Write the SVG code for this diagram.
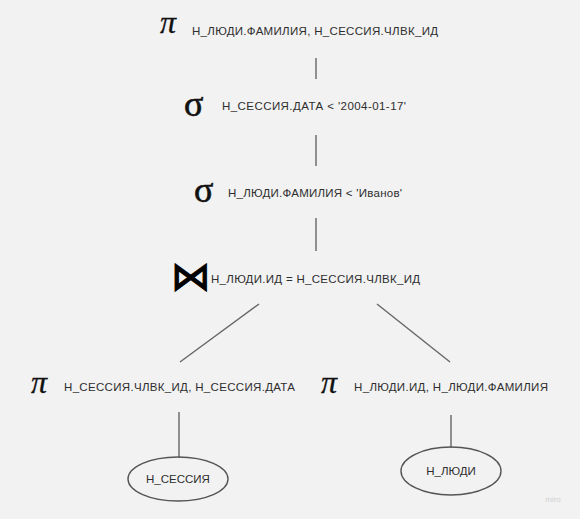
<svg xmlns="http://www.w3.org/2000/svg" width="580" height="519" viewBox="0 0 580 519">
<style>
.lbl{font-family:"Liberation Sans",Arial,sans-serif;font-size:11.5px;fill:#2e2e2e}
.sym{font-family:"Liberation Serif","DejaVu Serif",serif;fill:#111;stroke:#111}
.pi{font-style:italic;font-size:32px;stroke-width:0.3}
.sig{font-size:36px;stroke-width:0.6}
.edge{stroke:#666;stroke-width:1.4;fill:none}
.ell{fill:none;stroke:#555;stroke-width:1.4}
</style>
<rect width="580" height="519" fill="#f2f2f2"/>
<g id="connectors">
<line class="edge" x1="316" y1="58" x2="316" y2="79"/>
<line class="edge" x1="316" y1="135" x2="316" y2="166"/>
<line class="edge" x1="316" y1="218" x2="316" y2="251"/>
<line class="edge" x1="259" y1="304" x2="180" y2="362"/>
<line class="edge" x1="377" y1="304" x2="450" y2="362"/>
<line class="edge" x1="179" y1="412" x2="179" y2="458"/>
<line class="edge" x1="451" y1="415" x2="451" y2="448"/>
</g>
<g id="proj-top">
<text class="sym pi" x="160" y="33">π</text>
<text class="lbl" x="192" y="35" textLength="246">Н_ЛЮДИ.ФАМИЛИЯ, Н_СЕССИЯ.ЧЛВК_ИД</text>
</g>
<g id="sel-date">
<text class="sym sig" x="184" y="116">σ</text>
<text class="lbl" x="222" y="110" textLength="184">Н_СЕССИЯ.ДАТА &lt; '2004-01-17'</text>
</g>
<g id="sel-name">
<text class="sym sig" x="194" y="202">σ</text>
<text class="lbl" x="228" y="197" textLength="174">Н_ЛЮДИ.ФАМИЛИЯ &lt; 'Иванов'</text>
</g>
<g id="join">
<text x="171" y="290" font-family="DejaVu Sans,sans-serif" font-size="40" fill="#000" stroke="#000" stroke-width="1">⋈</text>
<text class="lbl" x="211" y="283" textLength="209">Н_ЛЮДИ.ИД = Н_СЕССИЯ.ЧЛВК_ИД</text>
</g>
<g id="proj-left">
<text class="sym pi" x="31" y="393">π</text>
<text class="lbl" x="64" y="391" textLength="231">Н_СЕССИЯ.ЧЛВК_ИД, Н_СЕССИЯ.ДАТА</text>
</g>
<g id="proj-right">
<text class="sym pi" x="321" y="393">π</text>
<text class="lbl" x="354" y="391" textLength="194">Н_ЛЮДИ.ИД, Н_ЛЮДИ.ФАМИЛИЯ</text>
</g>
<g id="rel-session">
<ellipse class="ell" cx="178" cy="479" rx="50" ry="22"/>
<text class="lbl" x="178" y="483" text-anchor="middle">Н_СЕССИЯ</text>
</g>
<g id="rel-people">
<ellipse class="ell" cx="451" cy="471" rx="50" ry="24"/>
<text class="lbl" x="451" y="475" text-anchor="middle">Н_ЛЮДИ</text>
</g>
<text x="553" y="502" font-family="Liberation Sans,sans-serif" font-size="8" fill="#d0d0d0" text-anchor="middle">miro</text>
</svg>
